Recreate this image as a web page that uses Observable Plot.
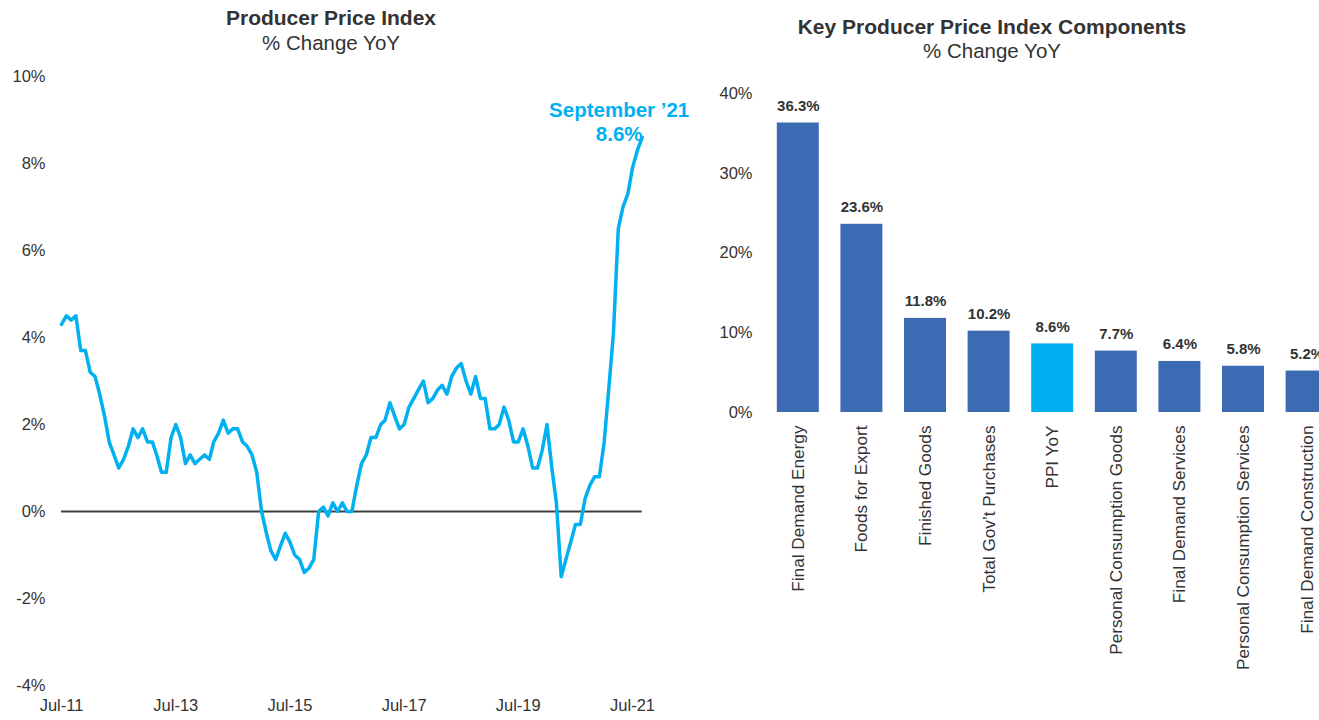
<!DOCTYPE html>
<html>
<head>
<meta charset="utf-8">
<script src="https://cdn.jsdelivr.net/npm/d3@7"></script>
<script src="https://cdn.jsdelivr.net/npm/@observablehq/plot@0.6"></script>
<style>
html, body { margin: 0; padding: 0; width: 1319px; height: 720px; overflow: hidden; background: #fff;
  font-family: "Liberation Sans", Arial, sans-serif; color: #333; }
.abs { position: absolute; }
.title { font-weight: bold; font-size: 21px; text-align: center; line-height: 24px; white-space: nowrap; }
.sub { font-size: 20.5px; text-align: center; line-height: 24px; white-space: nowrap; }
svg { max-width: none !important; }
</style>
</head>
<body>
<div class="abs title" style="left:0;width:662px;top:6px">Producer Price Index</div>
<div class="abs sub" style="left:0;width:662px;top:31px">% Change YoY</div>
<div class="abs title" style="left:700px;width:584px;top:15px">Key Producer Price Index Components</div>
<div class="abs sub" style="left:700px;width:584px;top:39px">% Change YoY</div>
<div id="left" class="abs" style="left:0;top:60px;width:700px"></div>
<div id="right" class="abs" style="left:700px;top:60px;width:639px"></div>
<script>
// ---- Left chart data: PPI % change YoY, monthly from Jul-2011 to Sep-2021 ----
const ppiStart = "2011-07-01";
const ppiYoY = [
  4.3, 4.5, 4.4, 4.5, 3.7, 3.7, 3.2, 3.1, 2.7, 2.2, 1.6, 1.3,   // Jul-11 .. Jun-12
  1.0, 1.2, 1.5, 1.9, 1.7, 1.9, 1.6, 1.6, 1.3, 0.9, 0.9, 1.7,   // Jul-12 .. Jun-13
  2.0, 1.7, 1.1, 1.3, 1.1, 1.2, 1.3, 1.2, 1.6, 1.8, 2.1, 1.8,   // Jul-13 .. Jun-14
  1.9, 1.9, 1.6, 1.5, 1.3, 0.9, 0.0, -0.5, -0.9, -1.1, -0.8, -0.5, // Jul-14 .. Jun-15
  -0.7, -1.0, -1.1, -1.4, -1.3, -1.1, 0.0, 0.1, -0.1, 0.2, 0.0, 0.2, // Jul-15 .. Jun-16
  0.0, 0.0, 0.6, 1.1, 1.3, 1.7, 1.7, 2.0, 2.1, 2.5, 2.2, 1.9,   // Jul-16 .. Jun-17
  2.0, 2.4, 2.6, 2.8, 3.0, 2.5, 2.6, 2.8, 2.9, 2.7, 3.1, 3.3,   // Jul-17 .. Jun-18
  3.4, 3.0, 2.7, 3.1, 2.6, 2.6, 1.9, 1.9, 2.0, 2.4, 2.1, 1.6,   // Jul-18 .. Jun-19
  1.6, 1.9, 1.5, 1.0, 1.0, 1.4, 2.0, 1.0, 0.2, -1.5, -1.1, -0.7, // Jul-19 .. Jun-20
  -0.3, -0.3, 0.3, 0.6, 0.8, 0.8, 1.6, 2.9, 4.1, 6.5, 7.0, 7.3, // Jul-20 .. Jun-21
  7.9, 8.3, 8.6                                                  // Jul-21 .. Sep-21
];
const ppiXTicks = ["2011-07-01", "2013-07-01", "2015-07-01", "2017-07-01", "2019-07-01", "2021-07-01"];
const ppiYTicks = [-4, -2, 0, 2, 4, 6, 8, 10];
const ppiAnnotation = "September ’21";

// ---- Right chart data: key PPI components ----
const components = [
  "Final Demand Energy", "Foods for Export", "Finished Goods", "Total Gov’t Purchases",
  "PPI YoY", "Personal Consumption Goods", "Final Demand Services",
  "Personal Consumption Services", "Final Demand Construction"
];
const componentValues = [36.3, 23.6, 11.8, 10.2, 8.6, 7.7, 6.4, 5.8, 5.2];
const highlighted = "PPI YoY";
const compYTicks = [0, 10, 20, 30, 40];

const font = "'Liberation Sans', Arial, sans-serif";
const lineBlue = "#00B0F0";
const barBlue = "#3D6BB3";

const start = new Date(ppiStart);
const ppiRows = ppiYoY.map((v, i) => ({date: d3.utcMonth.offset(start, i), value: v}));
const lastRow = ppiRows[ppiRows.length - 1];

const left = Plot.plot({
  width: 700, height: 660,
  marginLeft: 61, marginRight: 58.3, marginTop: 16, marginBottom: 35,
  style: {fontFamily: font, fontSize: "16.5px", color: "#333", background: "transparent", overflow: "visible", maxWidth: "none"},
  x: {type: "utc", domain: [ppiRows[0].date, lastRow.date], ticks: ppiXTicks.map(d => new Date(d)),
      tickFormat: d3.utcFormat("%b-%y"), tickSize: 0, tickPadding: 14, label: null},
  y: {domain: [-4, 10], ticks: ppiYTicks, tickFormat: d => d + "%", tickSize: 0, tickPadding: 16, label: null},
  marks: [
    Plot.ruleY([0], {stroke: "#404040", strokeWidth: 2}),
    Plot.line(ppiRows, {x: "date", y: "value", stroke: lineBlue, strokeWidth: 3.5,
      strokeLinejoin: "round", strokeLinecap: "round"}),
    Plot.text([lastRow], {x: "date", y: "value", text: d => ppiAnnotation + "\n" + d.value.toFixed(1) + "%",
      fill: lineBlue, fontWeight: "bold", fontSize: 20.5, lineHeight: 1.17, dx: -23, dy: -16})
  ]
});
document.getElementById("left").appendChild(left);

const compRows = components.map((name, i) => ({name, value: componentValues[i]}));

const right = Plot.plot({
  width: 639, height: 632,
  marginLeft: 66, marginRight: 0.6, marginTop: 33, marginBottom: 280,
  style: {fontFamily: font, fontSize: "16.5px", color: "#333", background: "transparent", overflow: "visible", maxWidth: "none"},
  x: {domain: components, paddingInner: 0.34, paddingOuter: 0.17, round: false,
      tickRotate: -90, tickSize: 0, tickPadding: 13, label: null},
  y: {domain: [0, 40], ticks: compYTicks, tickFormat: d => d + "%", tickSize: 0, tickPadding: 14, label: null},
  marks: [
    Plot.barY(compRows.filter(d => d.name !== highlighted), {x: "name", y: "value", fill: barBlue}),
    Plot.barY(compRows.filter(d => d.name === highlighted), {x: "name", y: "value", fill: lineBlue}),
    Plot.text(compRows, {x: "name", y: "value", text: d => d.value.toFixed(1) + "%",
      fontWeight: "bold", fontSize: 15, fill: "#333", dy: -17})
  ]
});
// Slightly larger category labels on the rotated x axis
d3.select(right).selectAll("g[aria-label='x-axis tick label'] text, g[aria-label='x-axis'] text").style("font-size", "17.2px");
document.getElementById("right").appendChild(right);
</script>
</body>
</html>
